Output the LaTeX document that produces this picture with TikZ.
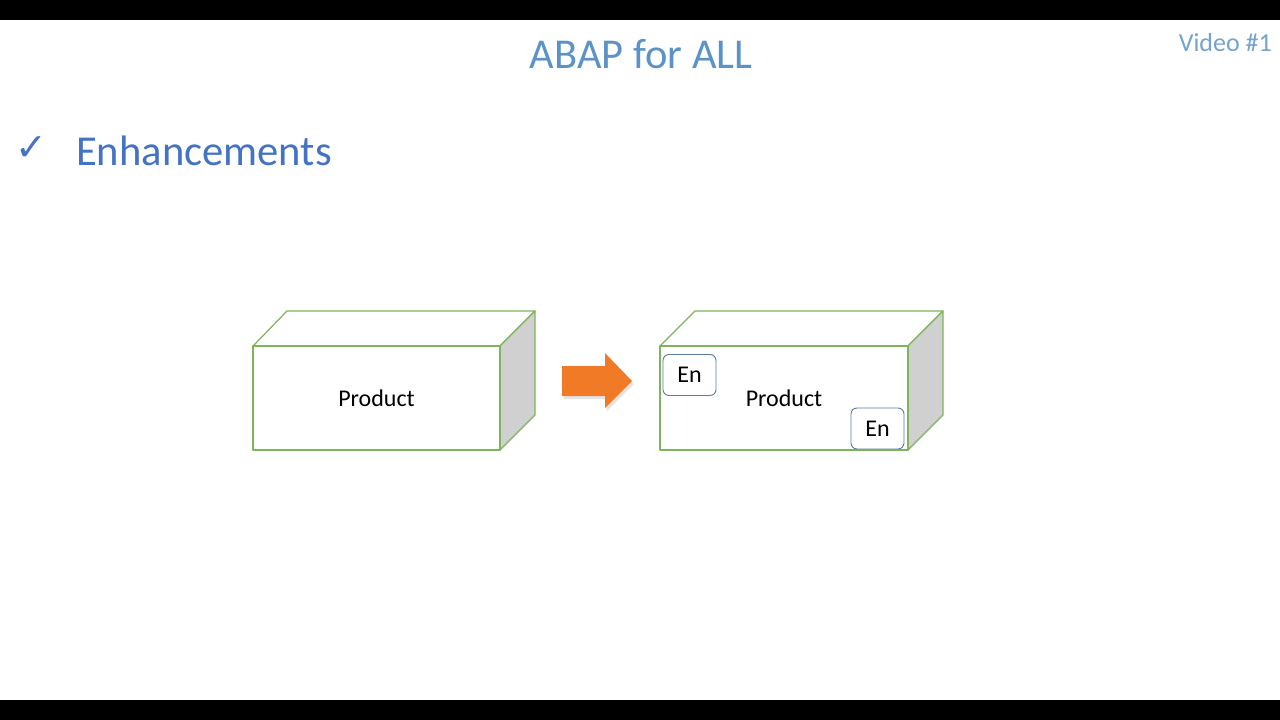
\documentclass[tikz,border=0pt]{standalone}
\usepackage{fontspec}
\setmainfont{Carlito}
\newfontfamily\symfont{DejaVu Sans}
\definecolor{titleblue}{HTML}{5B93C8}
\definecolor{headblue}{HTML}{4472C4}
\definecolor{boxgreen}{HTML}{7DB55A}
\definecolor{sidegrey}{HTML}{D0D0D0}
\definecolor{enblue}{HTML}{5A7BA8}
\definecolor{arroworange}{HTML}{F07A26}
\tikzset{
  boxline/.style={draw=boxgreen, line width=1.2pt, line join=round},
  sideface/.style={boxline, fill=sidegrey},
  prodtext/.style={font=\fontsize{24}{28}\selectfont, anchor=base},
  enbox/.style={draw=enblue, line width=0.9pt, rounded corners=6pt, fill=white, minimum width=53pt, minimum height=41pt, inner sep=0pt, font=\fontsize{24}{28}\selectfont},
}
\begin{document}
\begin{tikzpicture}[x=1pt, y=-1pt]
\useasboundingbox (0,0) rectangle (1280,720);
\fill[white] (0,0) rectangle (1280,720);
\fill[black] (0,0) rectangle (1280,20);
\fill[black] (0,700) rectangle (1280,720);
% title
\node[anchor=base, text=titleblue, font=\fontsize{42.5}{48}\selectfont, inner sep=0pt] (title) at (641,68) {ABAP for ALL};
\node[anchor=base east, text=titleblue!85, font=\fontsize{26}{30}\selectfont, inner sep=0pt] (video) at (1272,51) {Video \#1};
% heading
\node[anchor=base west, text=headblue, font=\symfont\bfseries\fontsize{38}{42}\selectfont, inner sep=0pt] (check) at (15,160) {✓};
\node[anchor=base west, text=headblue, font=\fontsize{42.6}{48}\selectfont, inner sep=0pt] (head) at (76,165) {Enhancements};
% box 1
\draw[boxline, fill=white] (253,346) -- (287,311) -- (535,311) -- (500,346) -- cycle;
\draw[sideface] (500,346) -- (535,311) -- (535,415) -- (500,450) -- cycle;
\draw[boxline, fill=white] (253,346) rectangle (500,450);
\node[prodtext, inner sep=0pt] (prod1) at (376.5,406) {Product};
% arrow
\fill[black!25, opacity=0.4] (564,369) -- (607,369) -- (607,356) -- (634,384) -- (607,411) -- (607,399) -- (564,399) -- cycle;
\fill[arroworange] (562,366) -- (605,366) -- (605,353) -- (632,381) -- (605,408) -- (605,396) -- (562,396) -- cycle;
% box 2
\draw[boxline, fill=white] (660,346) -- (695,311) -- (943,311) -- (908,346) -- cycle;
\draw[sideface] (908,346) -- (943,311) -- (943,415) -- (908,450) -- cycle;
\draw[boxline, fill=white] (660,346) rectangle (908,450);
\node[prodtext, inner sep=0pt] (prod2) at (784,406) {Product};
\node[enbox] (en1) at (689.5,375) {En};
\node[enbox] (en2) at (877.5,428.5) {En};
\end{tikzpicture}
\end{document}
